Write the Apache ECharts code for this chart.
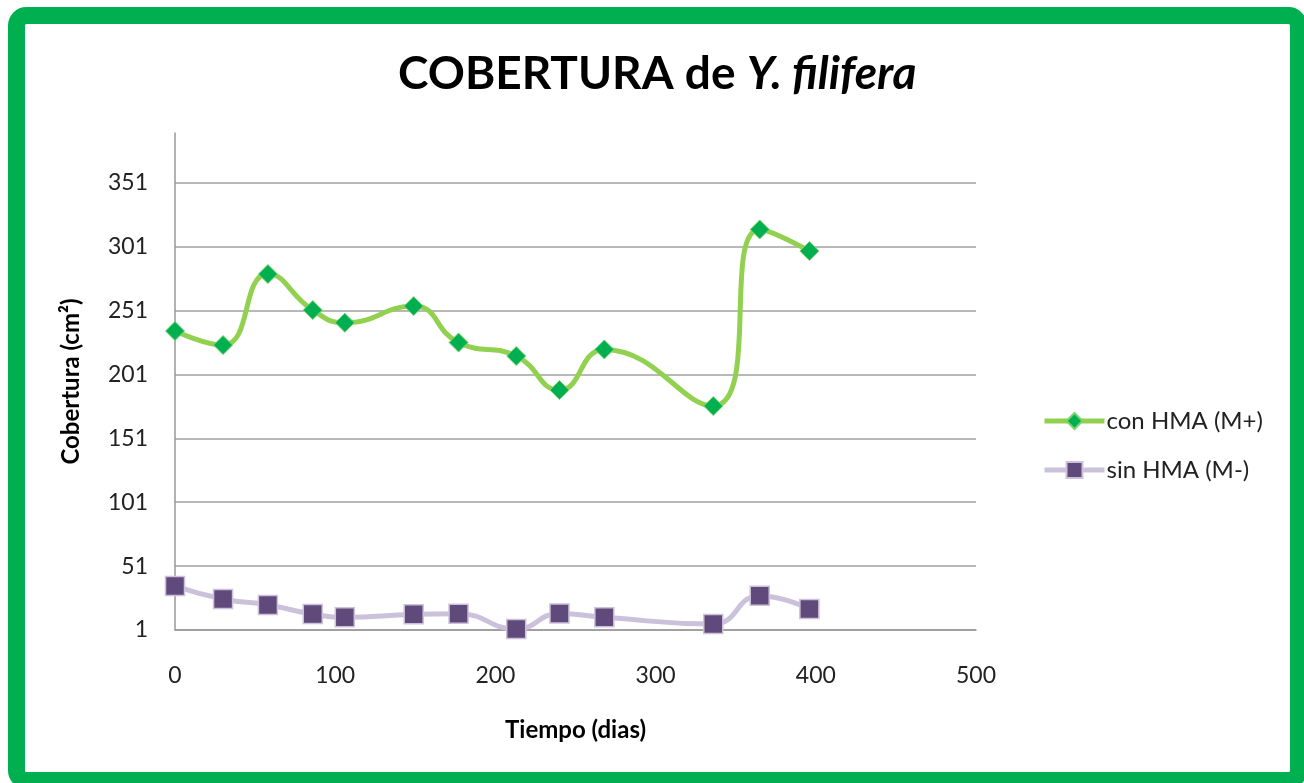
<!DOCTYPE html>
<html>
<head>
<meta charset="utf-8">
<script src="https://cdn.jsdelivr.net/npm/echarts@6/dist/echarts.min.js"></script>
<style>
html,body{margin:0;padding:0;background:#fff;}
#chart{width:1304px;height:783px;}
</style>
</head>
<body>
<div id="chart"></div>
<script>
// Data
const days = [0, 30, 58, 86, 106, 149, 177, 213, 240, 268, 336, 365, 396];
const conHMA = [235, 224, 279.6, 251.4, 241.5, 254.5, 226, 215.4, 188.8, 220.6, 176.3, 314.5, 297.6];
const sinHMA = [35.4, 25.3, 20.6, 13.5, 10.9, 13.3, 13.8, 1.8, 14, 10.9, 5.7, 27.8, 17.4];
const yTicks = [1, 51, 101, 151, 201, 251, 301, 351];
const xTicks = [0, 100, 200, 300, 400, 500];
const seriesNames = ['con HMA (M+)', 'sin HMA (M-)'];

const FONT = 'Lato, "Open Sans", sans-serif';
const chart = echarts.init(document.getElementById('chart'));

chart.setOption({
  backgroundColor: '#fff',
  animation: false,
  title: {
    text: '{a|COBERTURA de }{b|Y. filifera}',
    left: 393,
    top: 43,
    textStyle: {
      rich: {
        a: { fontFamily: FONT, fontWeight: 'bold', fontSize: 46, color: '#000', lineHeight: 52 },
        b: { fontFamily: FONT, fontWeight: 'bold', fontStyle: 'italic', fontSize: 46, color: '#000', lineHeight: 52 }
      }
    }
  },
  graphic: [{
    type: 'rect',
    silent: true,
    z: 100,
    shape: { x: 16.5, y: 15.5, width: 1282, height: 765, r: 10 },
    style: { fill: 'none', stroke: '#00B050', lineWidth: 17 }
  }],
  legend: {
    orient: 'vertical',
    left: 1037,
    top: 404,
    itemGap: 25,
    itemWidth: 60,
    itemHeight: 20,
    data: seriesNames,
    lineStyle: { width: 5 },
    textStyle: { fontFamily: FONT, fontSize: 24, color: '#222', padding: [0, 0, 0, -3] }
  },
  grid: { left: 175, right: 328, top: 133, bottom: 153, containLabel: false },
  xAxis: {
    type: 'value',
    min: xTicks[0],
    max: xTicks[xTicks.length - 1],
    interval: xTicks[1] - xTicks[0],
    name: 'Tiempo (dias)',
    nameLocation: 'middle',
    nameGap: 88,
    nameTextStyle: { fontFamily: FONT, fontWeight: 'bold', fontSize: 24, color: '#000' },
    axisLine: { show: true, lineStyle: { color: '#999', width: 1.5 } },
    axisTick: { show: false },
    splitLine: { show: false },
    axisLabel: { fontFamily: FONT, fontSize: 23, color: '#222', margin: 34 }
  },
  yAxis: {
    type: 'value',
    min: yTicks[0],
    max: 390,
    interval: yTicks[1] - yTicks[0],
    name: 'Cobertura (cm²)',
    nameLocation: 'middle',
    nameGap: 92,
    nameTextStyle: { fontFamily: FONT, fontWeight: 'bold', fontSize: 24, color: '#000' },
    axisLine: { show: true, lineStyle: { color: '#999', width: 1.5 } },
    axisTick: { show: false },
    splitLine: { show: true, showMaxLine: false, lineStyle: { color: '#a0a0a0', width: 1.5 } },
    axisLabel: {
      fontFamily: FONT, fontSize: 23, color: '#222', margin: 27, showMaxLabel: false,
      formatter: function (v) { return yTicks.indexOf(v) >= 0 ? String(v) : ''; }
    }
  },
  series: [
    {
      name: seriesNames[0],
      type: 'line',
      smooth: 0.5,
      data: days.map((d, i) => [d, conHMA[i]]),
      symbol: 'diamond',
      symbolSize: 19,
      lineStyle: { color: '#92D050', width: 5 },
      itemStyle: { color: '#00B050', borderColor: '#7dd36a', borderWidth: 1 },
      z: 3
    },
    {
      name: seriesNames[1],
      type: 'line',
      smooth: 0.5,
      data: days.map((d, i) => [d, sinHMA[i]]),
      symbol: 'rect',
      symbolSize: 19,
      lineStyle: { color: '#CCC1DA', width: 5 },
      itemStyle: { color: '#604A7B', borderColor: '#CCC1DA', borderWidth: 1.5 },
      z: 2
    }
  ]
});
</script>
</body>
</html>
